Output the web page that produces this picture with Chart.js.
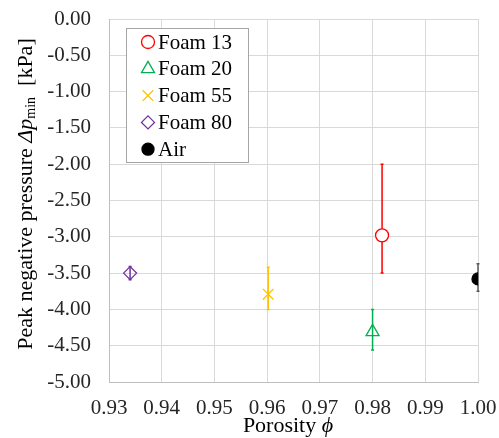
<!DOCTYPE html>
<html>
<head>
<meta charset="utf-8">
<script src="https://cdn.jsdelivr.net/npm/chart.js@4.4.0/dist/chart.umd.min.js"></script>
<style>
  html, body { margin: 0; padding: 0; background: #fff; }
  #wrap { width: 499px; height: 438px; }
</style>
</head>
<body>
<div id="wrap"><canvas id="poreChart" width="499" height="438"></canvas></div>
<script>
// values
const seriesNames = ['Foam 13', 'Foam 20', 'Foam 55', 'Foam 80', 'Air'];
const porosity = [0.9818, 0.98, 0.9602, 0.934, 1.00];
const peakPressure = [-2.98, -4.31, -3.79, -3.50, -3.58];
const errUpper = [-2.00, -4.00, -3.42, -3.41, -3.37];
const errLower = [-3.50, -4.56, -4.00, -3.59, -3.75];
const seriesColors = ['#FF0000', '#00B050', '#FFC000', '#7030A0', '#000000'];
const pointStyles = ['circle', 'triangle', 'crossRot', 'rectRot', 'circle'];
const pointSizes = [6.5, 7.5, 7.5, 6.5, 6];
const pointFills = ['#ffffff', 'rgba(0,0,0,0)', 'rgba(0,0,0,0)', 'rgba(0,0,0,0)', '#000000'];

const serif = "'Liberation Serif', 'Times New Roman', serif";
Chart.defaults.font.family = serif;
Chart.defaults.font.size = 21;

const datasets = seriesNames.map((name, i) => ({
    label: name,
    data: [{x: porosity[i], y: peakPressure[i]}],
    pointStyle: pointStyles[i],
    pointRadius: pointSizes[i],
    pointHoverRadius: pointSizes[i],
    borderColor: seriesColors[i],
    backgroundColor: pointFills[i],
    pointBorderWidth: 1.3,
    showLine: false,
}));

// vertical error bars, drawn under the markers
const errorBars = {
    id: 'errorBars',
    beforeDatasetsDraw(chart) {
        const ctx = chart.ctx;
        const xs = chart.scales.x, ys = chart.scales.y;
        ctx.save();
        seriesNames.forEach((n, i) => {
            const px = xs.getPixelForValue(porosity[i]);
            const top = ys.getPixelForValue(errUpper[i]);
            const bot = ys.getPixelForValue(errLower[i]);
            ctx.strokeStyle = i === 4 ? '#595959' : seriesColors[i];
            ctx.lineWidth = 1.5;
            ctx.beginPath();
            ctx.moveTo(px, top); ctx.lineTo(px, bot);
            ctx.moveTo(px - 1.5, top); ctx.lineTo(px + 1.5, top);
            ctx.moveTo(px - 1.5, bot); ctx.lineTo(px + 1.5, bot);
            ctx.stroke();
        });
        ctx.restore();
    }
};

// boxed legend inside the plot + axis titles with italic/subscript parts
const decorations = {
    id: 'decorations',
    afterDraw(chart) {
        const ctx = chart.ctx;
        ctx.save();
        // legend box
        const bx = 126.5, by = 28.5, bw = 122, bh = 134;
        ctx.fillStyle = '#fff';
        ctx.fillRect(bx, by, bw, bh);
        ctx.strokeStyle = '#A6A6A6';
        ctx.lineWidth = 1;
        ctx.strokeRect(bx, by, bw, bh);
        seriesNames.forEach((name, i) => {
            const cy = 42 + i * 26.8;
            ctx.strokeStyle = seriesColors[i];
            ctx.fillStyle = pointFills[i];
            ctx.lineWidth = 1.3;
            Chart.helpers.drawPoint(ctx, {
                pointStyle: pointStyles[i], radius: pointSizes[i], rotation: 0, borderWidth: 1.3
            }, 148, cy);
            ctx.fillStyle = '#000';
            ctx.font = '21px ' + serif;
            ctx.textAlign = 'left';
            ctx.textBaseline = 'middle';
            ctx.fillText(name, 158, cy + 1);
        });

        // x title
        ctx.fillStyle = '#000';
        ctx.textBaseline = 'middle';
        const xa = 'Porosity ', xb = '\u03D5';
        ctx.font = '22px ' + serif;
        const wa = ctx.measureText(xa).width;
        ctx.font = 'italic 22px ' + serif;
        const wb = ctx.measureText(xb).width;
        let sx = 288 - (wa + wb) / 2;
        ctx.font = '22px ' + serif;
        ctx.textAlign = 'left';
        ctx.fillText(xa, sx, 426);
        ctx.font = 'italic 22px ' + serif;
        ctx.fillText(xb, sx + wa, 426);

        // y title, rotated
        const parts = [
            {t: 'Peak negative pressure ', f: '22px ' + serif, dy: 0},
            {t: '\u0394p', f: 'italic 22px ' + serif, dy: 0},
            {t: 'min', f: '14px ' + serif, dy: 5},
            {t: '  [kPa]', f: '22px ' + serif, dy: 0},
        ];
        let total = 0;
        parts.forEach(p => { ctx.font = p.f; p.w = ctx.measureText(p.t).width; total += p.w; });
        ctx.translate(26, 194);
        ctx.rotate(-Math.PI / 2);
        let cx = -total / 2;
        parts.forEach(p => {
            ctx.font = p.f;
            ctx.fillText(p.t, cx, p.dy);
            cx += p.w;
        });
        ctx.restore();
    }
};

new Chart(document.getElementById('poreChart'), {
    type: 'scatter',
    data: { datasets: datasets },
    options: {
        responsive: false,
        animation: false,
        layout: { padding: { left: 0, top: 19, right: 21, bottom: 0 } },
        scales: {
            x: {
                type: 'linear',
                min: 0.93,
                max: 1.00,
                afterFit: (s) => { s.height = 56; s.paddingLeft = 0; s.paddingRight = 0; },
                ticks: {
                    stepSize: 0.01,
                    padding: 14,
                    color: '#262626',
                    font: { family: serif, size: 21 },
                    callback: (v) => v.toFixed(2),
                },
                grid: { color: '#D9D9D9', drawTicks: false },
                border: { color: '#BFBFBF' },
            },
            y: {
                min: -5,
                max: 0,
                afterFit: (s) => { s.width = 109; s.paddingTop = 0; s.paddingBottom = 0; },
                ticks: {
                    stepSize: 0.5,
                    padding: 18,
                    color: '#262626',
                    font: { family: serif, size: 21 },
                    callback: (v) => v.toFixed(2),
                },
                grid: { color: '#D9D9D9', drawTicks: false },
                border: { color: '#BFBFBF' },
            },
        },
        plugins: {
            legend: { display: false },
            tooltip: { enabled: false },
        }
    },
    plugins: [errorBars, decorations]
});
</script>
</body>
</html>
